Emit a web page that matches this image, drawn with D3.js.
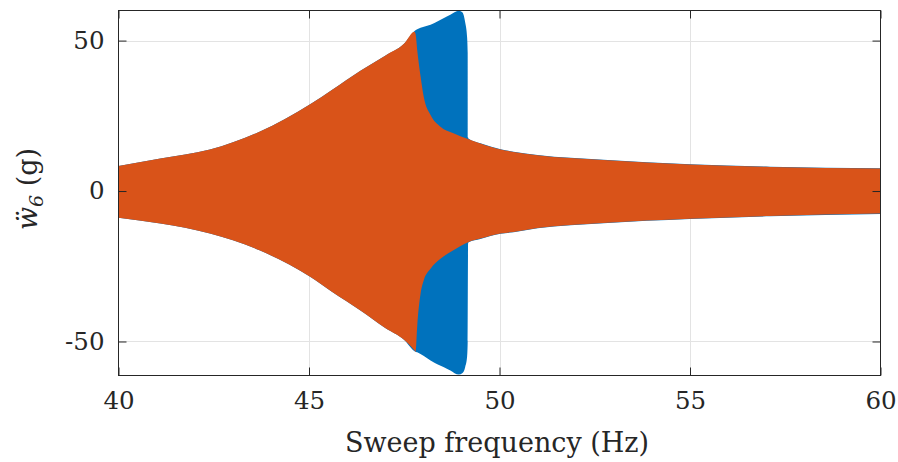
<!DOCTYPE html>
<html><head><meta charset="utf-8">
<script src="https://cdn.jsdelivr.net/npm/d3@7"></script>
<style>body{margin:0;background:#fff}svg{display:block}text{font-family:"DejaVu Serif",serif;fill:#262626}</style>
</head><body><svg id="c" width="898" height="462"></svg>
<script>
// Orange series (envelope of the response)
const orangeFreq  = [40, 41.1, 42.4, 43.7, 45.04, 45.6, 46.35, 47.0, 47.5, 47.77, 47.8, 47.84, 47.93, 48.01, 48.19, 48.45, 48.79, 49.19, 49.5, 50.03, 50.37, 51, 52.73, 55, 57.1, 60];
const orangeUpper = [8.3, 10.8, 13.8, 19.7, 28.9, 33.6, 40, 45, 49, 52.9, 52, 46.9, 38, 31.4, 25.3, 21.4, 19.2, 17.2, 15.8, 13.8, 13, 11.9, 10.3, 8.8, 8.0, 7.5];
const orangeLower = [-8.9, -10.8, -14.1, -19.7, -28.6, -33.5, -39.7, -45.5, -49.5, -53, -53.5, -45, -34, -29.7, -25.8, -22.5, -19.7, -16.9, -15.8, -14.1, -13.6, -12.3, -10.6, -9.2, -8.3, -7.5];
// Blue series (envelope of the response)
const blueFreq  = [40, 41.1, 42.4, 43.7, 45.04, 45.6, 46.35, 47.0, 47.5, 47.77, 47.84, 48.19, 48.28, 48.63, 48.71, 48.93, 49.03, 49.1, 49.15, 49.165, 49.175, 49.19, 49.5, 50.03, 50.37, 51, 52.73, 55, 57.1, 60];
const blueUpper = [8.3, 10.8, 13.8, 19.7, 28.9, 33.6, 40, 45, 49, 53.2, 53.8, 55.3, 55.8, 58.1, 58.6, 59.9, 59.3, 56, 51, 46, 17.8, 17.4, 15.9, 13.9, 13.1, 12.0, 10.4, 8.9, 8.1, 7.6];
const blueLower = [-8.9, -10.8, -14.1, -19.7, -28.6, -33.5, -39.7, -45.5, -49.5, -53.2, -53.6, -56.3, -57, -59.1, -59.6, -61, -60.5, -58.5, -55, -50, -17.5, -17.0, -15.9, -14.2, -13.7, -12.4, -10.7, -9.3, -8.4, -7.6];
const xTicks = [40, 45, 50, 55, 60];
const yTicks = [-50, 0, 50];
const xLabel = "Sweep frequency (Hz)";

const L = 118.5, R = 880.5, T = 10.5, B = 375.5;
const svg = d3.select("#c");
const x = d3.scaleLinear().domain([40, 60]).range([L, R]);
const y = d3.scaleLinear().domain([-61.3, 60]).range([B, T]);
const ink = "#262626";

// grid
svg.append("g").selectAll("line").data(xTicks.slice(1, -1)).join("line")
  .attr("x1", d => Math.round(x(d)) + 0.5).attr("x2", d => Math.round(x(d)) + 0.5)
  .attr("y1", T).attr("y2", B).attr("stroke", "#e3e3e3").attr("stroke-width", 1);
svg.append("g").selectAll("line").data(yTicks).join("line")
  .attr("y1", d => Math.round(y(d)) + 0.5).attr("y2", d => Math.round(y(d)) + 0.5)
  .attr("x1", L).attr("x2", R).attr("stroke", "#e3e3e3").attr("stroke-width", 1);

// data
const area = (f, u, l) => d3.area().x((d, i) => x(f[i])).y0((d, i) => y(l[i])).y1((d, i) => y(u[i])).curve(d3.curveMonotoneX)(f);
svg.append("path").attr("d", area(blueFreq, blueUpper, blueLower)).attr("fill", "#0072BD");
svg.append("path").attr("d", area(orangeFreq, orangeUpper, orangeLower)).attr("fill", "#D95319");

// axes
const xb = d3.axisBottom(x).tickValues(xTicks).tickSizeInner(-8).tickSizeOuter(0).tickPadding(16);
const xt = d3.axisTop(x).tickValues(xTicks).tickSizeInner(-8).tickSizeOuter(0).tickFormat("");
const yl = d3.axisLeft(y).tickValues(yTicks).tickSizeInner(-8).tickSizeOuter(0).tickPadding(14).tickFormat(d => d < 0 ? "-" + Math.abs(d) : d);
const yr = d3.axisRight(y).tickValues(yTicks).tickSizeInner(-8).tickSizeOuter(0).tickFormat("");
function style(g) {
  g.select(".domain").remove();
  g.selectAll(".tick line").attr("stroke", ink).attr("stroke-width", 1);
  g.selectAll("text").attr("font-family", "DejaVu Serif").attr("font-size", 24.5).attr("fill", ink);
}
svg.append("g").attr("transform", `translate(0,${B})`).call(xb).call(style);
svg.append("g").attr("transform", `translate(0,${T})`).call(xt).call(style);
svg.append("g").attr("transform", `translate(${L},0)`).call(yl).call(style);
svg.append("g").attr("transform", `translate(${R},0)`).call(yr).call(style);
svg.append("rect").attr("x", L).attr("y", T).attr("width", R - L).attr("height", B - T)
  .attr("fill", "none").attr("stroke", ink).attr("stroke-width", 1);

// labels
svg.append("text").attr("x", 497).attr("y", 452).attr("text-anchor", "middle")
  .attr("font-size", 27).text(xLabel);
const yt = svg.append("text").attr("transform", "translate(37,189) rotate(-90)")
  .attr("text-anchor", "middle").attr("font-size", 27);
yt.append("tspan").attr("font-style", "italic").text("\u1E85");
yt.append("tspan").attr("font-style", "italic").attr("font-size", 19).attr("dy", 6).text("6");
yt.append("tspan").attr("dy", -6).text(" (g)");
</script></body></html>
